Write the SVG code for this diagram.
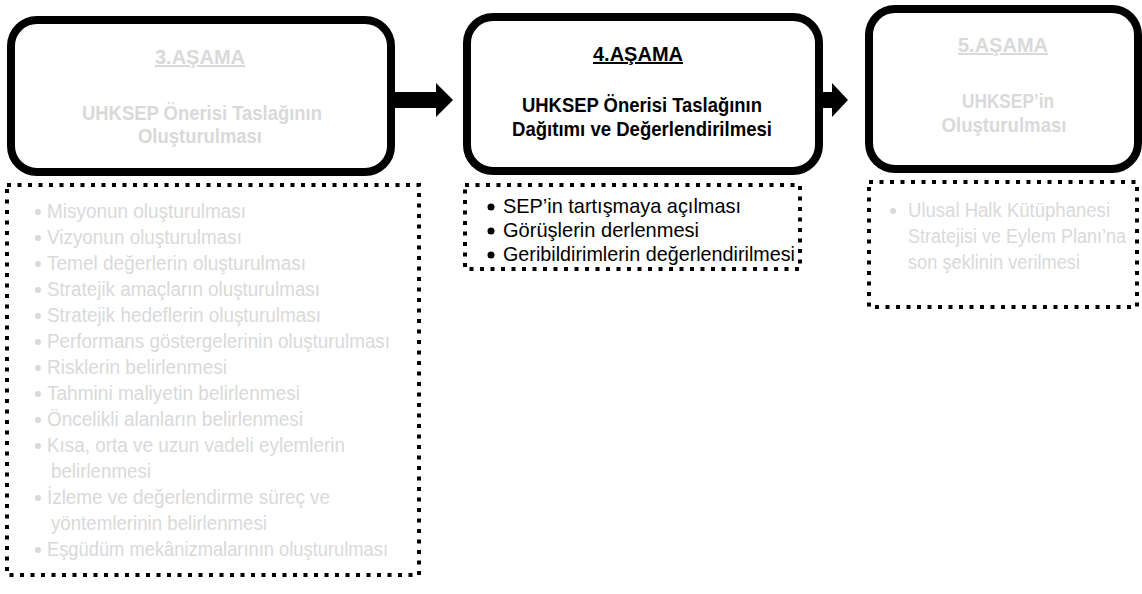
<svg xmlns="http://www.w3.org/2000/svg" width="1142" height="594" viewBox="0 0 1142 594">
<style>
.stage{fill:#fff;stroke:#000;stroke-width:8}
.dots{fill:none;stroke:#000;stroke-width:4;stroke-dasharray:4 6.5}
.arrow{fill:#000}
.ttl{font-family:"Liberation Sans",Arial,sans-serif;font-weight:bold;font-size:20px;text-anchor:middle;text-decoration:underline}
.sub{font-family:"Liberation Sans",Arial,sans-serif;font-weight:bold;font-size:21px;text-anchor:middle}
.li{font-family:"Liberation Sans",Arial,sans-serif;font-size:20px}
.li4{font-family:"Liberation Sans",Arial,sans-serif;font-size:21px;fill:#000}
.g{fill:#d9d9d9}
.k{fill:#000}
</style>
<rect width="1142" height="594" fill="#fff"/>
<g id="connectors">
<polygon class="arrow" points="395,92 436,92 436,83 453,100 436,117 436,108 395,108"/>
<polygon class="arrow" points="823,92 832,92 832,83 848,100 832,117 832,108 823,108"/>
</g>
<g id="stage3">
<rect class="stage" x="11" y="20" width="380" height="152" rx="26"/>
<text class="ttl g" x="200" y="64">3.AŞAMA</text>
<text class="sub g" x="202" y="120" textLength="240" lengthAdjust="spacingAndGlyphs">UHKSEP Önerisi Taslağının</text>
<text class="sub g" x="200" y="143" textLength="124" lengthAdjust="spacingAndGlyphs">Oluşturulması</text>
</g>
<g id="list3">
<rect class="dots" x="7" y="185" width="412" height="390"/>
<g class="g">
<circle cx="38" cy="212" r="3"/><circle cx="38" cy="238" r="3"/><circle cx="38" cy="264" r="3"/><circle cx="38" cy="290" r="3"/><circle cx="38" cy="316" r="3"/><circle cx="38" cy="342" r="3"/><circle cx="38" cy="368" r="3"/><circle cx="38" cy="394" r="3"/><circle cx="38" cy="420" r="3"/><circle cx="38" cy="446" r="3"/><circle cx="38" cy="498" r="3"/><circle cx="38" cy="550" r="3"/>
</g>
<g class="li g">
<text x="47" y="218" textLength="199" lengthAdjust="spacingAndGlyphs">Misyonun oluşturulması</text>
<text x="47" y="244" textLength="195" lengthAdjust="spacingAndGlyphs">Vizyonun oluşturulması</text>
<text x="47" y="270" textLength="259" lengthAdjust="spacingAndGlyphs">Temel değerlerin oluşturulması</text>
<text x="47" y="296" textLength="273" lengthAdjust="spacingAndGlyphs">Stratejik amaçların oluşturulması</text>
<text x="47" y="322" textLength="274" lengthAdjust="spacingAndGlyphs">Stratejik hedeflerin oluşturulması</text>
<text x="47" y="348" textLength="343" lengthAdjust="spacingAndGlyphs">Performans göstergelerinin oluşturulması</text>
<text x="47" y="374" textLength="180" lengthAdjust="spacingAndGlyphs">Risklerin belirlenmesi</text>
<text x="47" y="400" textLength="253" lengthAdjust="spacingAndGlyphs">Tahmini maliyetin belirlenmesi</text>
<text x="47" y="426" textLength="256" lengthAdjust="spacingAndGlyphs">Öncelikli alanların belirlenmesi</text>
<text x="47" y="452" textLength="298" lengthAdjust="spacingAndGlyphs">Kısa, orta ve uzun vadeli eylemlerin</text>
<text x="51" y="478" textLength="100" lengthAdjust="spacingAndGlyphs">belirlenmesi</text>
<text x="47" y="504" textLength="283" lengthAdjust="spacingAndGlyphs">İzleme ve değerlendirme süreç ve</text>
<text x="51" y="530" textLength="216" lengthAdjust="spacingAndGlyphs">yöntemlerinin belirlenmesi</text>
<text x="47" y="556" textLength="341" lengthAdjust="spacingAndGlyphs">Eşgüdüm mekânizmalarının oluşturulması</text>
</g>
</g>
<g id="stage4">
<rect class="stage" x="467" y="17" width="352" height="154" rx="26"/>
<text class="ttl k" x="638" y="61">4.AŞAMA</text>
<text class="sub k" x="642" y="112" textLength="240" lengthAdjust="spacingAndGlyphs">UHKSEP Önerisi Taslağının</text>
<text class="sub k" x="642" y="136" textLength="260" lengthAdjust="spacingAndGlyphs">Dağıtımı ve Değerlendirilmesi</text>
</g>
<g id="list4">
<rect class="dots" x="465" y="185" width="335" height="84"/>
<g class="k">
<circle cx="491" cy="207" r="3.5"/><circle cx="491" cy="231" r="3.5"/><circle cx="491" cy="255" r="3.5"/>
</g>
<g class="li4">
<text x="503" y="213" textLength="238" lengthAdjust="spacingAndGlyphs">SEP’in tartışmaya açılması</text>
<text x="503" y="237" textLength="196" lengthAdjust="spacingAndGlyphs">Görüşlerin derlenmesi</text>
<text x="503" y="261" textLength="292" lengthAdjust="spacingAndGlyphs">Geribildirimlerin değerlendirilmesi</text>
</g>
</g>
<g id="stage5">
<rect class="stage" x="869" y="9" width="269" height="160" rx="26"/>
<text class="ttl g" x="1003" y="52">5.AŞAMA</text>
<text class="sub g" x="1008" y="108" textLength="92" lengthAdjust="spacingAndGlyphs">UHKSEP’in</text>
<text class="sub g" x="1004" y="132" textLength="125" lengthAdjust="spacingAndGlyphs">Oluşturulması</text>
</g>
<g id="list5">
<rect class="dots" x="869" y="182" width="268" height="125"/>
<circle class="g" cx="893" cy="211" r="3"/>
<g class="li g">
<text x="908" y="217" textLength="202" lengthAdjust="spacingAndGlyphs">Ulusal Halk Kütüphanesi</text>
<text x="908" y="243" textLength="218" lengthAdjust="spacingAndGlyphs">Stratejisi ve Eylem Planı’na</text>
<text x="908" y="269" textLength="172" lengthAdjust="spacingAndGlyphs">son şeklinin verilmesi</text>
</g>
</g>
</svg>
